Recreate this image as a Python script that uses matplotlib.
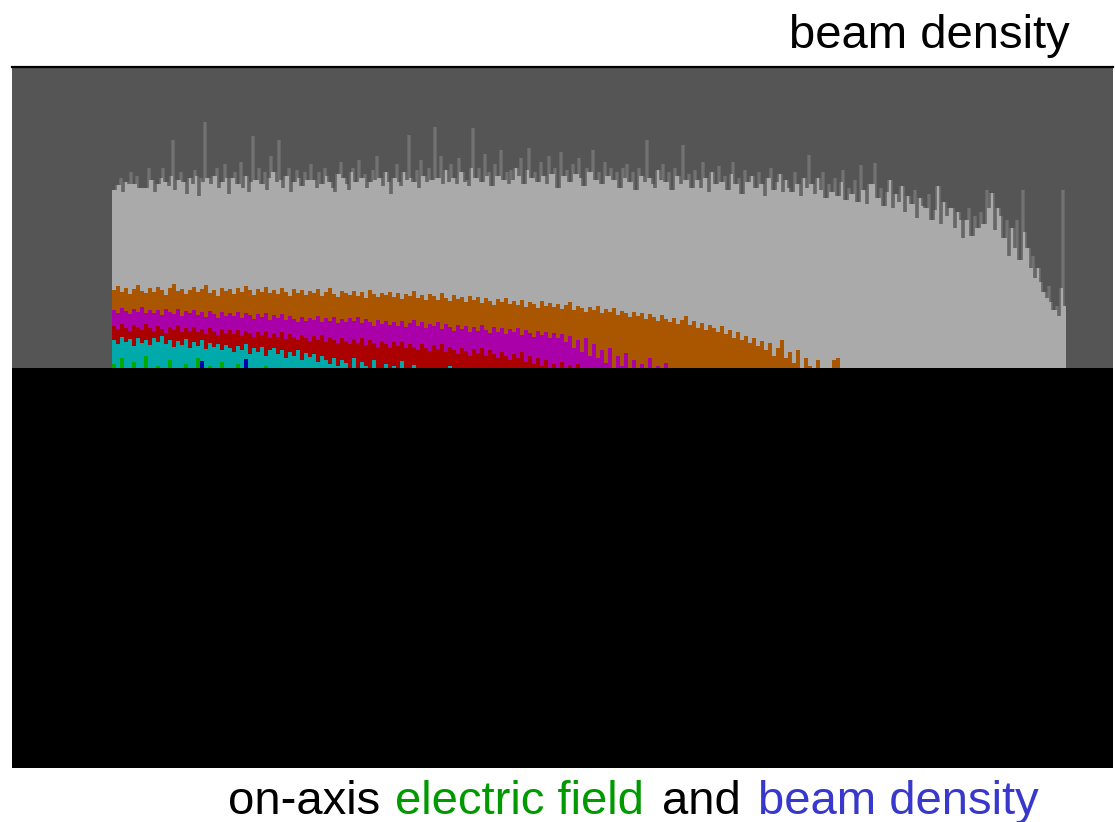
import numpy as np
import matplotlib
matplotlib.use("Agg")
import matplotlib.pyplot as plt

plt.rcParams['font.family'] = ['Liberation Sans', 'DejaVu Sans']

# ---- data: beam density histograms (bin heights)
# all particles, fine bins (bin width 2 units along the axis)
gray_all = [
    578, 578, 583, 583, 590, 576, 586, 586, 584, 596, 584, 584, 592, 580, 580, 580, 580, 580, 600, 588,
    588, 576, 584, 584, 590, 600, 586, 586, 582, 592, 628, 578, 588, 588, 596, 586, 586, 574, 590, 590,
    584, 598, 592, 572, 590, 586, 646, 590, 590, 584, 592, 592, 600, 580, 586, 586, 604, 590, 574, 590,
    590, 596, 584, 584, 606, 580, 592, 592, 576, 586, 632, 588, 588, 600, 584, 584, 596, 578, 590, 612,
    596, 596, 586, 628, 588, 580, 592, 592, 600, 576, 586, 586, 598, 590, 582, 582, 596, 588, 588, 604,
    588, 588, 580, 596, 584, 584, 600, 592, 586, 586, 580, 576, 594, 594, 606, 590, 590, 584, 578, 596,
    600, 586, 586, 608, 590, 590, 594, 580, 586, 586, 598, 588, 612, 590, 590, 582, 596, 596, 586, 574,
    590, 590, 604, 586, 582, 596, 596, 588, 633, 590, 586, 586, 598, 580, 608, 592, 592, 586, 600, 588,
    588, 641, 590, 590, 612, 584, 598, 598, 586, 604, 590, 590, 584, 610, 596, 596, 586, 588, 582, 600,
    640, 590, 590, 600, 586, 586, 614, 592, 596, 582, 582, 604, 592, 592, 618, 588, 588, 596, 584, 598,
    588, 600, 600, 592, 610, 584, 584, 598, 620, 590, 590, 596, 586, 586, 606, 592, 592, 584, 612, 594,
    594, 600, 580, 580, 616, 592, 592, 598, 586, 586, 604, 594, 594, 610, 590, 582, 582, 600, 596, 596,
    618, 588, 588, 596, 584, 584, 606, 592, 592, 600, 588, 588, 596, 580, 580, 600, 590, 604, 586, 586,
    596, 578, 578, 600, 592, 592, 586, 628, 590, 590, 584, 580, 598, 598, 588, 604, 586, 586, 596, 578,
    578, 600, 592, 592, 584, 623, 588, 588, 594, 580, 580, 598, 588, 588, 580, 606, 590, 590, 576, 596,
    596, 584, 584, 602, 586, 586, 592, 578, 578, 594, 606, 584, 584, 590, 574, 574, 598, 586, 586, 592,
    592, 580, 580, 596, 584, 584, 572, 590, 590, 600, 578, 578, 586, 594, 594, 576, 588, 588, 580, 576,
    576, 596, 584, 584, 572, 590, 590, 580, 613, 584, 584, 574, 590, 590, 578, 596, 570, 570, 584, 576,
    576, 590, 572, 572, 586, 598, 568, 568, 580, 574, 574, 588, 566, 566, 603, 578, 578, 564, 584, 584,
    584, 605, 570, 570, 580, 562, 562, 576, 588, 588, 560, 574, 574, 566, 582, 582, 556, 572, 572, 564,
    564, 578, 550, 570, 570, 562, 560, 560, 574, 548, 548, 558, 582, 582, 544, 566, 566, 552, 560, 560,
    560, 540, 556, 556, 548, 530, 548, 548, 560, 532, 532, 552, 540, 540, 556, 544, 544, 578, 560, 575,
    575, 538, 560, 560, 552, 530, 530, 548, 512, 540, 540, 520, 548, 508, 508, 578, 536, 520, 520, 500,
    512, 490, 500, 500, 486, 476, 476, 470, 482, 466, 458, 458, 462, 452, 480, 578, 462,
]
# energy classes, coarser bins (bin width 4 units)
brown = [
    478, 482, 476, 480, 474, 479, 483, 477, 475, 480,
    476, 481, 478, 473, 480, 484, 477, 479, 474, 478,
    481, 476, 479, 483, 475, 478, 472, 480, 477, 479,
    474, 480, 476, 482, 478, 473, 479, 476, 481, 475,
    478, 474, 480, 476, 472, 479, 475, 478, 473, 477,
    475, 479, 472, 476, 480, 474, 471, 477, 475, 473,
    477, 472, 476, 470, 478, 474, 471, 475, 473, 476,
    471, 475, 469, 474, 472, 477, 470, 473, 468, 474,
    472, 468, 475, 470, 467, 473, 469, 471, 466, 472,
    468, 471, 465, 470, 467, 463, 469, 466, 470, 464,
    467, 463, 468, 461, 466, 464, 460, 467, 462, 465,
    461, 464, 459, 463, 466, 458, 462, 460, 456, 461,
    458, 462, 455, 459, 456, 460, 453, 457, 455, 451,
    456, 452, 455, 449, 454, 451, 447, 453, 449, 446,
    450, 444, 448, 452, 443, 447, 440, 445, 438, 443,
    440, 436, 442, 434, 438, 430, 436, 428, 432, 425,
    430, 422, 427, 418, 425, 412, 420, 428, 410, 416,
    405, 418, 398, 410, 402, 390, 408, 395, 400, 385,
    408, 410,
]
magenta = [
    458, 455, 460, 457, 454, 459, 456, 461, 455, 458,
    455, 458, 453, 459, 456, 454, 459, 452, 457, 455,
    458, 453, 456, 451, 457, 454, 450, 456, 452, 455,
    452, 456, 450, 455, 453, 449, 454, 451, 455, 448,
    453, 450, 454, 448, 452, 449, 446, 451, 447, 450,
    448, 452, 446, 450, 447, 451, 445, 449, 446, 450,
    447, 451, 445, 449, 446, 442, 448, 444, 447, 443,
    446, 442, 447, 441, 445, 448, 442, 446, 440, 444,
    442, 446, 439, 444, 441, 437, 443, 439, 442, 436,
    441, 437, 443, 438, 435, 441, 436, 440, 434, 439,
    436, 440, 433, 438, 435, 431, 437, 433, 436, 430,
    435, 430, 434, 426, 432, 420, 428, 416, 430, 412,
    424, 410, 418, 405, 420, 398, 412, 402, 415, 395,
    408, 398, 404, 392, 410, 396, 402, 390, 405,
]
red = [
    442, 439, 444, 440, 437, 443, 441, 438, 444, 440,
    437, 442, 439, 435, 441, 438, 443, 436, 440, 437,
    441, 436, 439, 434, 440, 437, 433, 439, 435, 438,
    434, 438, 432, 437, 435, 431, 436, 433, 437, 430,
    435, 431, 436, 429, 434, 431, 428, 433, 430, 427,
    432, 428, 433, 426, 431, 428, 425, 430, 427, 424,
    429, 425, 430, 423, 428, 425, 421, 427, 424, 420,
    426, 422, 427, 420, 424, 421, 418, 424, 420, 417,
    423, 419, 424, 416, 421, 418, 414, 420, 417, 412,
    419, 415, 420, 412, 418, 414, 410, 416, 412, 408,
    414, 410, 416, 406, 412, 404, 410, 402, 408, 400,
    404, 398, 406, 395, 403, 396, 404, 392, 398, 390,
]
cyan = [
    428, 424, 431, 426, 429, 422, 430, 425, 428, 423,
    430, 426, 432, 424, 428, 421, 427, 423, 429, 420,
    426, 422, 428, 419, 425, 421, 424, 418, 423, 420,
    416, 422, 418, 424, 414, 420, 416, 421, 412, 418,
    420, 414, 418, 410, 416, 412, 418, 408, 415, 411,
    414, 406, 412, 408, 404, 410, 402, 408, 405, 400,
    410, 398, 406, 402, 396, 408, 400, 395, 404, 398,
    402, 394, 407, 398, 392, 403, 396, 390, 400, 393,
    398, 390, 396, 388, 402, 392, 386, 398, 390, 395,
]
green = [
    404, 392, 410, 396, 388, 406, 398, 390, 412, 394,
    386, 402, 396, 390, 408, 384, 398, 392, 404, 388,
    396, 410, 390, 386, 402, 394, 388, 406, 392, 384,
    398, 404, 388, 392, 386, 400, 390, 384, 402, 380,
    392, 386, 398, 382, 390, 396, 380, 388, 394, 382,
]
blue = [
    380, 384, 378, 386, 382, 380, 376, 384, 380, 378,
    382, 386, 380, 378, 384, 382, 380, 376, 382, 380,
    384, 380, 407, 382, 378, 384, 380, 376, 382, 380,
    378, 382, 384, 409, 380, 378,
]

series = [
    (brown, '#aa5500'),
    (magenta, '#aa00aa'),
    (red, '#aa0000'),
    (cyan, '#00aaaa'),
    (green, '#00aa00'),
    (blue, '#0000aa'),
]
FINE, COARSE = 2, 4

W, H, DPI = 1115, 822, 100
fig = plt.figure(figsize=(W / DPI, H / DPI), dpi=DPI)
fig.patch.set_facecolor('white')

ax = fig.add_axes([12 / W, (822 - 768) / H, 1101 / W, 701 / H])
ax.set_facecolor('#555555')

g = np.asarray(gray_all, dtype=float)
edges = np.arange(len(g) + 1) * FINE
ax.stairs(g, edges, fill=True, color='#aaaaaa', lw=0, zorder=1)
lo = np.minimum(g[:-1], g[1:])
hi = np.maximum(g[:-1], g[1:])
ax.vlines(edges[1:-1], lo, hi, color='#6a6a6a', lw=1.25, zorder=2)

for k, (vals, col) in enumerate(series):
    v = np.asarray(vals, dtype=float)
    ax.stairs(v, np.arange(len(v) + 1) * COARSE, fill=True, color=col,
              lw=0, zorder=3 + k)

# black occluding panel over the lower part of the plot
ax.axhspan(0, 400, color='black', lw=0, zorder=20)

ax.set_xlim(-100, 1001)
ax.set_ylim(0, 701)
ax.set_xticks([])
ax.set_yticks([])
for s in ['left', 'right', 'bottom']:
    ax.spines[s].set_visible(False)
ax.spines['top'].set_color('black')
ax.spines['top'].set_linewidth(1.6)

# texts
fig.text(1070 / W, 1 - 48 / H, 'beam density', ha='right', va='baseline',
         fontsize=34, color='black')

base = 1 - 814 / H
pieces = [
    ('on-axis', 228, 'black'),
    ('electric field', 395, '#009900'),
    ('and', 662, 'black'),
    ('beam density', 758, '#3838cc'),
]
for txt, xp, col in pieces:
    fig.text(xp / W, base, txt, ha='left', va='baseline', fontsize=34, color=col)

fig.savefig('out.png', dpi=DPI)
